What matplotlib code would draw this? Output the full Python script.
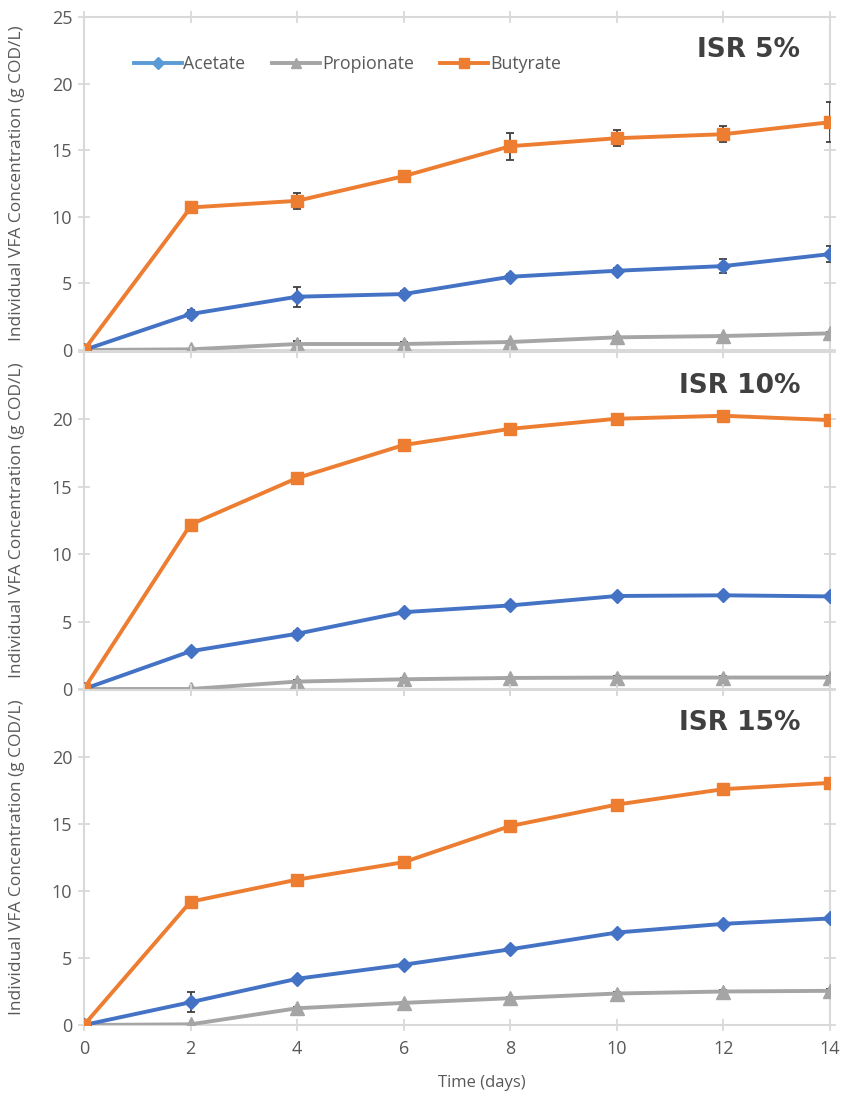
import numpy as np
import matplotlib.pyplot as plt
from matplotlib.lines import Line2D

plt.rcParams['font.family'] = ['Open Sans', 'DejaVu Sans']

days = [0, 2, 4, 6, 8, 10, 12, 14]
panels = ['ISR 5%', 'ISR 10%', 'ISR 15%']

# mean concentrations (g COD/L) per inoculum-to-substrate ratio
acetate = [
    [0, 2.7, 4.0, 4.2, 5.5, 5.95, 6.3, 7.2],
    [0, 2.8, 4.1, 5.7, 6.2, 6.9, 6.95, 6.87],
    [0, 1.7, 3.45, 4.5, 5.65, 6.9, 7.55, 7.95],
]
propionate = [
    [0, 0.05, 0.45, 0.45, 0.6, 0.95, 1.05, 1.25],
    [0, 0, 0.55, 0.72, 0.82, 0.85, 0.85, 0.85],
    [0, 0.05, 1.25, 1.65, 2.0, 2.35, 2.5, 2.55],
]
butyrate = [
    [0, 10.7, 11.2, 13.05, 15.3, 15.9, 16.2, 17.1],
    [0, 12.2, 15.65, 18.1, 19.3, 20.05, 20.27, 19.95],
    [0, 9.2, 10.85, 12.15, 14.85, 16.45, 17.6, 18.07],
]

# standard deviations
acetate_err = [
    [0, 0.3, 0.75, 0.2, 0.2, 0.2, 0.5, 0.6],
    [0, 0.15, 0.2, 0.15, 0.1, 0.1, 0.1, 0.1],
    [0, 0.75, 0.15, 0.1, 0.1, 0.1, 0.1, 0.1],
]
propionate_err = [
    [0, 0, 0.2, 0.15, 0.1, 0.1, 0.1, 0.1],
    [0, 0, 0.1, 0.1, 0.1, 0.1, 0.1, 0.1],
    [0, 0, 0.1, 0.1, 0.1, 0.1, 0.1, 0.1],
]
butyrate_err = [
    [0, 0.3, 0.6, 0.25, 1.0, 0.6, 0.6, 1.5],
    [0, 0.15, 0.15, 0.1, 0.1, 0.1, 0.1, 0.1],
    [0, 0.1, 0.1, 0.1, 0.1, 0.1, 0.1, 0.1],
]

BLUE = '#4472C4'
GRAY = '#A5A5A5'
ORANGE = '#ED7D31'
AXIS = '#D9D9D9'
TXT = '#595959'

W, H = 842, 1097
fig = plt.figure(figsize=(W / 100, H / 100), dpi=100)

left, right = 84, 830
tops = [17, 352, 690]
bottoms = [350, 689, 1025]

err_kw = dict(ecolor='#404040', elinewidth=1.3, capsize=3, capthick=1.3)

for i in range(3):
    ax = fig.add_axes([left / W, 1 - bottoms[i] / H, (right - left) / W,
                       (bottoms[i] - tops[i]) / H])
    ax.errorbar(days, propionate[i], yerr=propionate_err[i], color=GRAY,
                marker='^', markersize=10, lw=2.8, zorder=3, **err_kw)
    ax.errorbar(days, acetate[i], yerr=acetate_err[i], color=BLUE,
                marker='D', markersize=7.5, lw=2.8, zorder=4, **err_kw)
    ax.errorbar(days, butyrate[i], yerr=butyrate_err[i], color=ORANGE,
                marker='s', markersize=9, lw=2.8, zorder=5, **err_kw)

    ax.set_xlim(0, 14)
    ax.set_ylim(0, 25)
    ax.set_xticks(range(0, 15, 2))
    if i == 0:
        ax.set_yticks([0, 5, 10, 15, 20, 25])
    else:
        ax.set_yticks([0, 5, 10, 15, 20, 25], ['0', '5', '10', '15', '20', ''])
    for s in ax.spines.values():
        s.set_color(AXIS)
        s.set_linewidth(1.5)
    ax.tick_params(direction='inout', length=9, width=1.3, color=AXIS,
                   labelcolor=TXT, labelsize=13, top=True, right=True)
    ax.tick_params(axis='y', pad=4)
    ax.tick_params(axis='x', pad=6)
    if i < 2:
        ax.tick_params(axis='x', labelbottom=False)
    ax.patch.set_alpha(0)
    ax.set_ylabel('Individual VFA Concentration (g COD/L)', color=TXT,
                  fontsize=12.5)
    ax.yaxis.set_label_coords(-0.079, 0.5)
    ax.text(0.96, 0.9, panels[i], transform=ax.transAxes, ha='right',
            va='center', fontsize=19, fontweight='bold', color='#404040',
            family='DejaVu Sans')

    if i == 0:
        handles = [
            Line2D([], [], color='#5B9BD5', marker='D', markersize=6, lw=2.8),
            Line2D([], [], color=GRAY, marker='^', markersize=7, lw=2.8),
            Line2D([], [], color=ORANGE, marker='s', markersize=7, lw=2.8),
        ]
        leg = ax.legend(handles, ['Acetate', 'Propionate', 'Butyrate'],
                        ncol=3, frameon=False, loc='center left',
                        bbox_to_anchor=(0.045, 0.858), fontsize=12.8,
                        handlelength=2.7, handletextpad=0.1,
                        columnspacing=1.5)
        for t in leg.get_texts():
            t.set_color(TXT)

fig.text(482 / W, 1 - 1083 / H, 'Time (days)', ha='center', va='center',
         fontsize=12, color=TXT)

fig.savefig('out.png', dpi=100)
